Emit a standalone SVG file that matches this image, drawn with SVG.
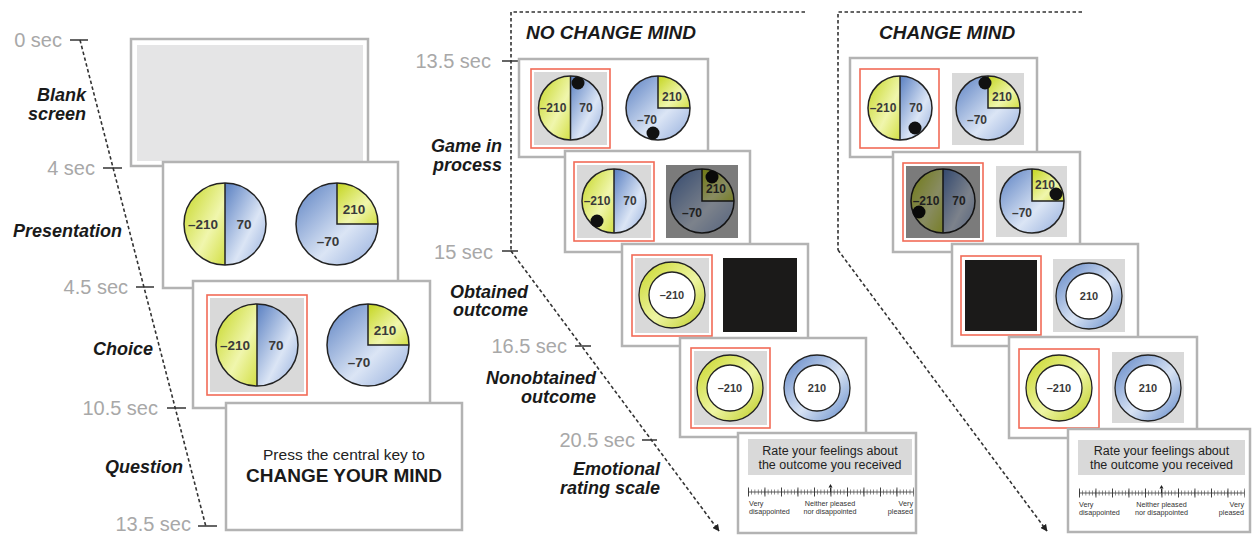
<svg xmlns="http://www.w3.org/2000/svg" xmlns:xlink="http://www.w3.org/1999/xlink" width="1253" height="535" viewBox="0 0 1253 535">
  <style>
    .pn{fill:#fff;stroke:#b3b3b3;stroke-width:2.5}
    .sel{fill:#fff;stroke:#f26b57;stroke-width:1.6}
    .gb{fill:#d9d9d9}
    .blk{fill:#1b1a19}
    .dim{fill:#000;fill-opacity:.43}
    .ol{fill:none;stroke:#222;stroke-width:1.5}
    .dot{fill:#111}
    .tm{font-family:"Liberation Sans",Arial,sans-serif;font-size:20px;fill:#a8a8a8;text-anchor:end}
    .ph{font-family:"Liberation Sans",Arial,sans-serif;font-size:18px;font-weight:bold;font-style:italic;fill:#1a1a1a;text-anchor:end}
    .hd{font-family:"Liberation Sans",Arial,sans-serif;font-size:19px;font-weight:bold;font-style:italic;fill:#1a1a1a}
    .nL{font-family:"Liberation Sans",Arial,sans-serif;font-size:13.5px;font-weight:bold;fill:#3a3a3a;text-anchor:middle}
    .nS{font-family:"Liberation Sans",Arial,sans-serif;font-size:12px;font-weight:bold;fill:#3a3a3a;text-anchor:middle}
    .nR{font-family:"Liberation Sans",Arial,sans-serif;font-size:11px;font-weight:bold;fill:#3a3a3a;text-anchor:middle}
    .q1{font-family:"Liberation Sans",Arial,sans-serif;font-size:15.5px;fill:#222;text-anchor:middle}
    .q2{font-family:"Liberation Sans",Arial,sans-serif;font-size:19px;font-weight:bold;fill:#1a1a1a;text-anchor:middle}
    .rt{font-family:"Liberation Sans",Arial,sans-serif;font-size:12.5px;fill:#222;text-anchor:middle}
    .sl{font-family:"Liberation Sans",Arial,sans-serif;font-size:7.2px;fill:#333}
    .dash{fill:none;stroke:#333;stroke-width:1.6;stroke-dasharray:3.5 2.5}
    .tick{stroke:#333;stroke-width:1.5}
  </style>
  <defs>
    <linearGradient id="gY" x1="0" y1="0" x2="1" y2="1">
      <stop offset="0" stop-color="#c4d51f"/>
      <stop offset="0.6" stop-color="#f0f6ad"/>
      <stop offset="1" stop-color="#d3df45"/>
    </linearGradient>
    <linearGradient id="gB" x1="0" y1="0" x2="1" y2="1">
      <stop offset="0" stop-color="#5a80c2"/>
      <stop offset="0.6" stop-color="#dbe5f5"/>
      <stop offset="1" stop-color="#93addc"/>
    </linearGradient>
    <linearGradient id="gRY" x1="0" y1="0" x2="1" y2="1">
      <stop offset="0" stop-color="#c8d626"/>
      <stop offset="0.55" stop-color="#eef5a4"/>
      <stop offset="1" stop-color="#bccb1e"/>
    </linearGradient>
    <linearGradient id="gRB" x1="0" y1="0" x2="1" y2="1">
      <stop offset="0" stop-color="#5b82c4"/>
      <stop offset="0.55" stop-color="#d8e3f4"/>
      <stop offset="1" stop-color="#6088c8"/>
    </linearGradient>
    <marker id="arr" viewBox="0 0 10 10" refX="9" refY="5" markerWidth="7" markerHeight="7" orient="auto" markerUnits="userSpaceOnUse">
      <path d="M0 0L10 5L0 10Z" fill="#222"/>
    </marker>
    <!-- large pies, radius 41 -->
    <g id="halfL">
      <path d="M0-41A41 41 0 0 0 0 41Z" fill="url(#gY)"/>
      <path d="M0-41A41 41 0 0 1 0 41Z" fill="url(#gB)"/>
      <line x1="0" y1="-41" x2="0" y2="41" class="ol"/>
      <circle r="41" class="ol"/>
    </g>
    <g id="quadL">
      <circle r="41" fill="url(#gB)"/>
      <path d="M0 0V-41A41 41 0 0 1 41 0Z" fill="url(#gY)"/>
      <path d="M0-41V0H41" class="ol"/>
      <circle r="41" class="ol"/>
    </g>
    <!-- small pies, radius 32 -->
    <g id="halfS">
      <path d="M0-32A32 32 0 0 0 0 32Z" fill="url(#gY)"/>
      <path d="M0-32A32 32 0 0 1 0 32Z" fill="url(#gB)"/>
      <line x1="0" y1="-32" x2="0" y2="32" class="ol"/>
      <circle r="32" class="ol"/>
    </g>
    <g id="quadS">
      <circle r="32" fill="url(#gB)"/>
      <path d="M0 0V-32A32 32 0 0 1 32 0Z" fill="url(#gY)"/>
      <path d="M0-32V0H32" class="ol"/>
      <circle r="32" class="ol"/>
    </g>
    <!-- outcome rings -->
    <g id="ringY">
      <circle r="33" fill="url(#gRY)" stroke="#222" stroke-width="1.3"/>
      <circle r="23" fill="#fff" stroke="#222" stroke-width="1.3"/>
    </g>
    <g id="ringB">
      <circle r="33" fill="url(#gRB)" stroke="#222" stroke-width="1.3"/>
      <circle r="23" fill="#fff" stroke="#222" stroke-width="1.3"/>
    </g>
    <!-- rating scale bar, 165 wide, origin at left end -->
    <g id="bar">
      <line x1="0" y1="0" x2="165" y2="0" stroke="#333" stroke-width="0.8"/>
      <line x1="0" y1="0" x2="165.5" y2="0" stroke="#444" stroke-width="5" stroke-dasharray="0.6 2.7"/>
      <line x1="0" y1="0" x2="165.5" y2="0" stroke="#333" stroke-width="9" stroke-dasharray="0.9 15.6"/>
      <line x1="82.5" y1="0" x2="82.5" y2="-4" stroke="#222" stroke-width="0.9"/>
      <path d="M80.5-4.5L82.5-8L84.5-4.5Z" fill="#222"/>
    </g>
  </defs>

  <!-- time axes -->
  <g id="connectors">
    <line class="dash" x1="80" y1="40" x2="206" y2="527"/>
    <line class="tick" x1="70" y1="40" x2="88" y2="40"/>
    <line class="tick" x1="103" y1="168" x2="122" y2="168"/>
    <line class="tick" x1="136" y1="287" x2="154" y2="287"/>
    <line class="tick" x1="167" y1="408" x2="186" y2="408"/>
    <line class="tick" x1="198" y1="526" x2="217" y2="526"/>

    <path class="dash" d="M805 12H511V251"/>
    <line class="dash" x1="511" y1="251" x2="719" y2="531" marker-end="url(#arr)"/>
    <line class="tick" x1="502" y1="61" x2="519" y2="61"/>
    <line class="tick" x1="502" y1="251" x2="518" y2="251"/>
    <line class="tick" x1="575" y1="346" x2="591" y2="346"/>
    <line class="tick" x1="642" y1="440" x2="657" y2="440"/>

    <path class="dash" d="M1082 12H838V250"/>
    <line class="dash" x1="838" y1="250" x2="1047" y2="531" marker-end="url(#arr)"/>
  </g>

  <!-- time and phase labels -->
  <g id="labels">
    <text class="tm" x="62" y="47">0 sec</text>
    <text class="tm" x="95" y="175">4 sec</text>
    <text class="tm" x="128" y="294">4.5 sec</text>
    <text class="tm" x="158" y="415">10.5 sec</text>
    <text class="tm" x="191" y="531">13.5 sec</text>
    <text class="ph" x="86" y="101">Blank</text>
    <text class="ph" x="86" y="120">screen</text>
    <text class="ph" x="122" y="237">Presentation</text>
    <text class="ph" x="153" y="355">Choice</text>
    <text class="ph" x="183" y="473">Question</text>

    <text class="tm" x="491" y="68">13.5 sec</text>
    <text class="tm" x="493" y="259">15 sec</text>
    <text class="tm" x="567" y="353">16.5 sec</text>
    <text class="tm" x="635" y="447">20.5 sec</text>
    <text class="ph" x="502" y="152">Game in</text>
    <text class="ph" x="502" y="171">process</text>
    <text class="ph" x="528" y="298">Obtained</text>
    <text class="ph" x="528" y="316">outcome</text>
    <text class="ph" x="596" y="384">Nonobtained</text>
    <text class="ph" x="596" y="403">outcome</text>
    <text class="ph" x="660" y="475">Emotional</text>
    <text class="ph" x="660" y="494">rating scale</text>

    <text class="hd" x="526" y="39">NO CHANGE MIND</text>
    <text class="hd" x="879" y="39">CHANGE MIND</text>
  </g>

  <!-- left sequence -->
  <g id="blank-screen">
    <rect class="pn" x="131" y="39" width="237" height="127"/>
    <rect x="137" y="45" width="226" height="116" fill="#e5e5e6"/>
  </g>
  <g id="presentation">
    <rect class="pn" x="163" y="162" width="235" height="126"/>
    <use xlink:href="#halfL" x="225" y="224"/>
    <text class="nL" x="203" y="229">–210</text>
    <text class="nL" x="244" y="229">70</text>
    <use xlink:href="#quadL" x="337" y="224"/>
    <text class="nL" x="354" y="214">210</text>
    <text class="nL" x="328" y="246">–70</text>
  </g>
  <g id="choice">
    <rect class="pn" x="193" y="281" width="237" height="127"/>
    <rect class="sel" x="207" y="295" width="100" height="100"/>
    <rect class="gb" x="210" y="298" width="94" height="94"/>
    <use xlink:href="#halfL" x="257" y="345"/>
    <text class="nL" x="235" y="350">–210</text>
    <text class="nL" x="276" y="350">70</text>
    <use xlink:href="#quadL" x="368" y="345"/>
    <text class="nL" x="385" y="335">210</text>
    <text class="nL" x="359" y="367">–70</text>
  </g>
  <g id="question">
    <rect class="pn" x="226" y="403" width="236" height="127"/>
    <text class="q1" x="344" y="460">Press the central key to</text>
    <text class="q2" x="344" y="482">CHANGE YOUR MIND</text>
  </g>

  <!-- no change mind sequence -->
  <g id="ncm-game-1">
    <rect class="pn" x="519" y="59" width="189" height="98"/>
    <rect class="sel" x="531" y="69" width="79" height="79"/>
    <rect class="gb" x="534" y="72" width="73" height="73"/>
    <use xlink:href="#halfS" x="570.5" y="108"/>
    <text class="nS" x="553" y="112">–210</text>
    <text class="nS" x="586" y="112">70</text>
    <circle class="dot" cx="578" cy="83" r="6.5"/>
    <use xlink:href="#quadS" x="658" y="108"/>
    <text class="nS" x="672" y="101">210</text>
    <text class="nS" x="647" y="124">–70</text>
    <circle class="dot" cx="653" cy="133" r="6.5"/>
  </g>
  <g id="ncm-game-2">
    <rect class="pn" x="565" y="151" width="185" height="101"/>
    <rect class="sel" x="574" y="162" width="80" height="79"/>
    <rect class="gb" x="577" y="165" width="74" height="73"/>
    <use xlink:href="#halfS" x="614" y="201"/>
    <text class="nS" x="597" y="205">–210</text>
    <text class="nS" x="630" y="205">70</text>
    <circle class="dot" cx="597" cy="221" r="6.5"/>
    <rect class="gb" x="666" y="165" width="72" height="73"/>
    <use xlink:href="#quadS" x="702" y="201"/>
    <text class="nS" x="716" y="193">210</text>
    <text class="nS" x="692" y="217">–70</text>
    <circle class="dot" cx="712" cy="177" r="6.5"/>
    <rect class="dim" x="666" y="165" width="72" height="73"/>
  </g>
  <g id="ncm-obtained">
    <rect class="pn" x="622" y="244" width="186" height="102"/>
    <rect class="sel" x="632" y="255" width="80" height="81"/>
    <rect class="gb" x="635" y="258" width="74" height="75"/>
    <use xlink:href="#ringY" x="672" y="295"/>
    <text class="nR" x="672" y="299">–210</text>
    <rect class="blk" x="723" y="258" width="74" height="74"/>
  </g>
  <g id="ncm-nonobtained">
    <rect class="pn" x="680" y="338" width="186" height="99"/>
    <rect class="sel" x="691" y="348" width="79" height="80"/>
    <rect class="gb" x="694" y="351" width="73" height="74"/>
    <use xlink:href="#ringY" x="730" y="388"/>
    <text class="nR" x="730" y="392">–210</text>
    <use xlink:href="#ringB" x="817" y="388"/>
    <text class="nR" x="817" y="392">210</text>
  </g>
  <g id="ncm-rating">
    <rect class="pn" x="738" y="433" width="178" height="100"/>
    <rect class="gb" x="748" y="439" width="164" height="36" fill="#e3e3e3"/>
    <text class="rt" x="830" y="455">Rate your feelings about</text>
    <text class="rt" x="830" y="469">the outcome you received</text>
    <use xlink:href="#bar" x="748" y="492"/>
    <text class="sl" x="749" y="506">Very</text>
    <text class="sl" x="749" y="514">disappointed</text>
    <text class="sl" x="830" y="506" text-anchor="middle">Neither pleased</text>
    <text class="sl" x="830" y="514" text-anchor="middle">nor disappointed</text>
    <text class="sl" x="913" y="506" text-anchor="end">Very</text>
    <text class="sl" x="913" y="514" text-anchor="end">pleased</text>
  </g>

  <!-- change mind sequence -->
  <g id="cm-game-1">
    <rect class="pn" x="850" y="58" width="187" height="99"/>
    <rect class="sel" x="860" y="69" width="79" height="79"/>
    <use xlink:href="#halfS" x="900" y="108"/>
    <text class="nS" x="883" y="112">–210</text>
    <text class="nS" x="916" y="112">70</text>
    <circle class="dot" cx="915" cy="128" r="6.5"/>
    <rect class="gb" x="952" y="73" width="72" height="72"/>
    <use xlink:href="#quadS" x="988" y="108"/>
    <text class="nS" x="1002" y="101">210</text>
    <text class="nS" x="977" y="124">–70</text>
    <circle class="dot" cx="985" cy="83" r="6.5"/>
  </g>
  <g id="cm-game-2">
    <rect class="pn" x="893" y="152" width="187" height="100"/>
    <rect class="sel" x="903" y="163" width="80" height="78"/>
    <rect class="gb" x="906" y="166" width="74" height="72"/>
    <use xlink:href="#halfS" x="943" y="201"/>
    <text class="nS" x="926" y="205">–210</text>
    <text class="nS" x="959" y="205">70</text>
    <circle class="dot" cx="919" cy="212" r="6.5"/>
    <rect class="dim" x="906" y="166" width="74" height="72"/>
    <rect class="gb" x="996" y="166" width="71" height="71"/>
    <use xlink:href="#quadS" x="1032" y="201"/>
    <text class="nS" x="1045" y="189">210</text>
    <text class="nS" x="1022" y="217">–70</text>
    <circle class="dot" cx="1056" cy="194" r="6.5"/>
  </g>
  <g id="cm-obtained">
    <rect class="pn" x="952" y="244" width="186" height="102"/>
    <rect class="sel" x="961" y="256" width="80" height="79"/>
    <rect class="blk" x="965" y="260" width="72" height="71"/>
    <rect class="gb" x="1053" y="259" width="72" height="73"/>
    <use xlink:href="#ringB" x="1089" y="296"/>
    <text class="nR" x="1089" y="300">210</text>
  </g>
  <g id="cm-nonobtained">
    <rect class="pn" x="1009" y="337" width="188" height="101"/>
    <rect class="sel" x="1019" y="349" width="80" height="79"/>
    <use xlink:href="#ringY" x="1059" y="388"/>
    <text class="nR" x="1059" y="392">–210</text>
    <rect class="gb" x="1112" y="352" width="72" height="71"/>
    <use xlink:href="#ringB" x="1148" y="388"/>
    <text class="nR" x="1148" y="392">210</text>
  </g>
  <g id="cm-rating">
    <rect class="pn" x="1068" y="429" width="182" height="103"/>
    <rect class="gb" x="1078" y="440" width="167" height="35" fill="#e3e3e3"/>
    <text class="rt" x="1161.5" y="455">Rate your feelings about</text>
    <text class="rt" x="1161.5" y="469">the outcome you received</text>
    <use xlink:href="#bar" x="1079" y="493"/>
    <text class="sl" x="1079" y="507">Very</text>
    <text class="sl" x="1079" y="515">disappointed</text>
    <text class="sl" x="1161.5" y="507" text-anchor="middle">Neither pleased</text>
    <text class="sl" x="1161.5" y="515" text-anchor="middle">nor disappointed</text>
    <text class="sl" x="1244" y="507" text-anchor="end">Very</text>
    <text class="sl" x="1244" y="515" text-anchor="end">pleased</text>
  </g>
</svg>
